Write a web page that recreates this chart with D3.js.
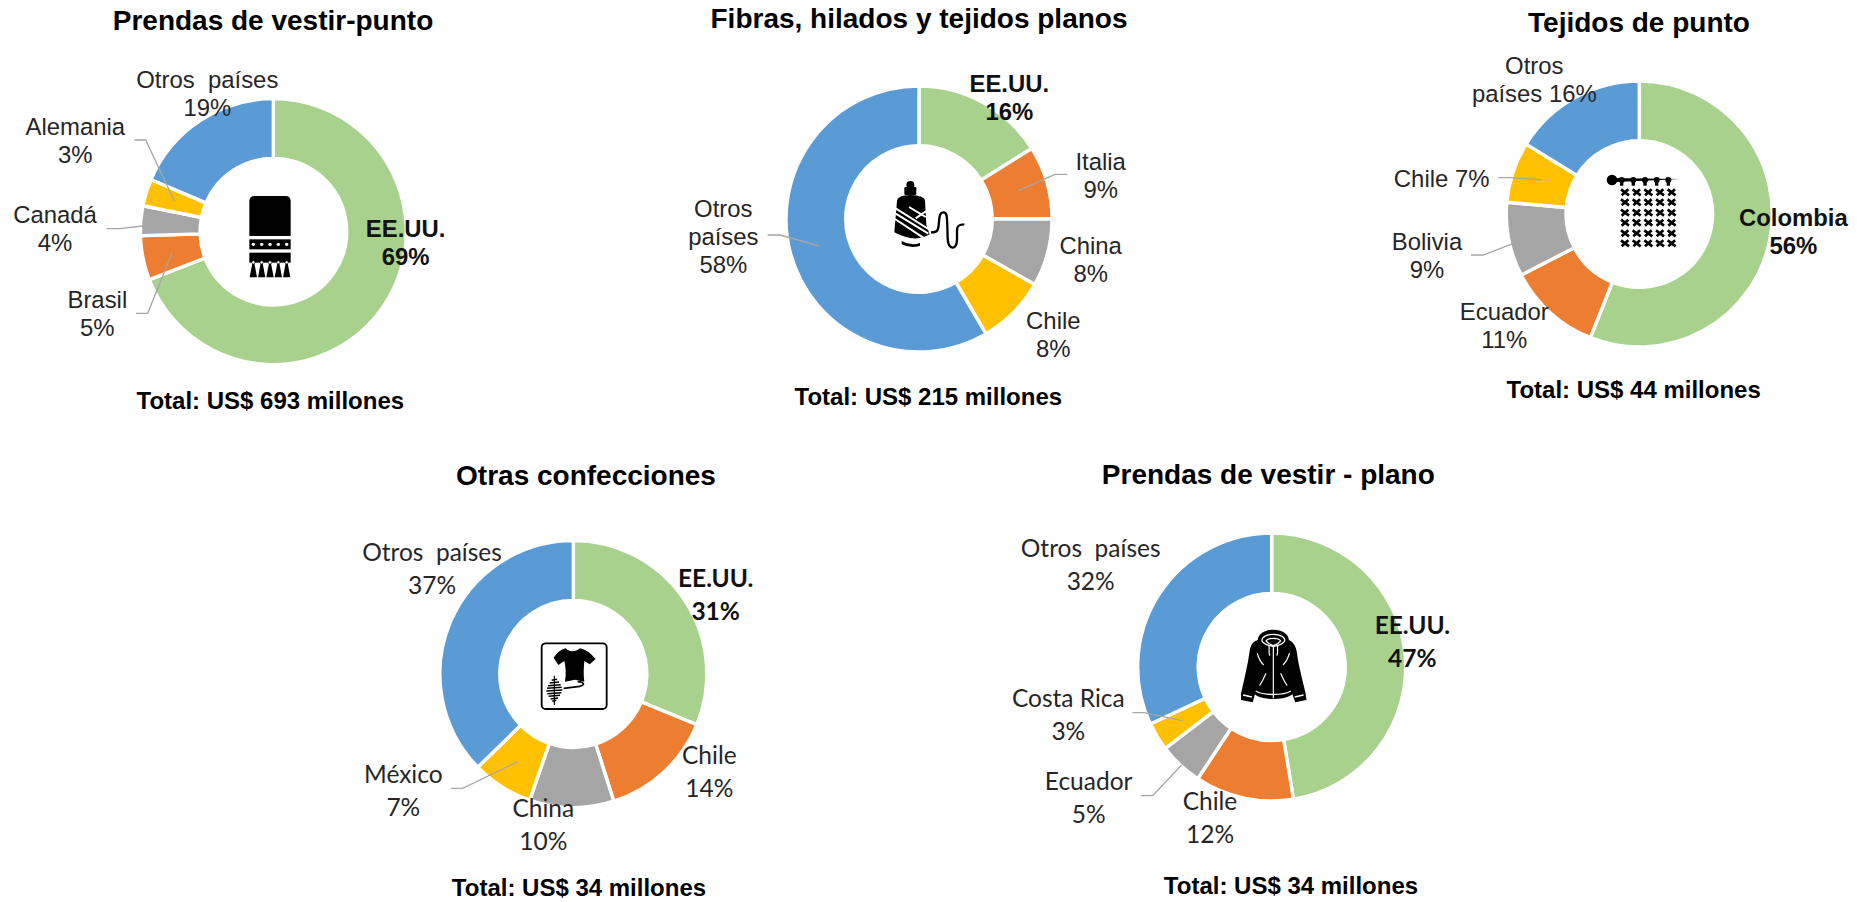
<!DOCTYPE html>
<html><head><meta charset="utf-8">
<style>html,body{margin:0;background:#fff}svg{display:block}text{white-space:pre}</style>
<script src="https://cdn.jsdelivr.net/npm/d3@7"></script></head><body>
<script>
// ---------- data ----------
const sliceColors = ["#A9D18E","#ED7D31","#A5A5A5","#FFC000","#5B9BD5"];

const puntoTitle = "Prendas de vestir-punto";
const puntoCountries = ["EE.UU.","Brasil","Canadá","Alemania","Otros  países"];
const puntoShares = [69.2,5.4,3.6,3.3,18.6];
const puntoTotal = "Total: US$ 693 millones";

const fibrasTitle = "Fibras, hilados y tejidos planos";
const fibrasCountries = ["EE.UU.","Italia","China","Chile","Otros|países"];
const fibrasShares = [16.1,8.9,8.2,8.4,58.4];
const fibrasTotal = "Total: US$ 215 millones";

const tejidosTitle = "Tejidos de punto";
const tejidosCountries = ["Colombia","Ecuador","Bolivia","Chile","Otros|países"];
const tejidosShares = [56.0,11.4,9.0,7.4,16.2];
const tejidosTotal = "Total: US$ 44 millones";

const otrasTitle = "Otras confecciones";
const otrasCountries = ["EE.UU.","Chile","China","México","Otros  países"];
const otrasShares = [31.2,13.9,10.2,7.4,37.3];
const otrasTotal = "Total: US$ 34 millones";

const planoTitle = "Prendas de vestir - plano";
const planoCountries = ["EE.UU.","Chile","Ecuador","Costa Rica","Otros  países"];
const planoShares = [47.4,11.9,5.3,3.4,32.0];
const planoTotal = "Total: US$ 34 millones";

// ---------- layout (annotation positions, in px x3 relative to an origin) ----------
const ARIAL = "'Liberation Sans', Arial, sans-serif";
const CAL = "Lato, 'Noto Sans', sans-serif";
const charts = [
 {title:puntoTitle,names:puntoCountries,values:puntoShares,total:puntoTotal,
  o:[0,0],c:[820,695],r:133,ri:73.3,font:ARIAL,fs:23.9,gap:84,icon:"poncho",iconO:[240,190],
  t:[819,90],tt:[811,1228],
  pos:[[1217,712],[292,923],[165,668],[226,405],[622,265]],
  one:[],
  leaders:[[[408,940],[443,940],[517,757]],[[320,686],[360,686],[428,678]],[[403,420],[437,420],[523,603]]]},
 {title:fibrasTitle,names:fibrasCountries,values:fibrasShares,total:fibrasTotal,
  o:[690,0],c:[687,657],r:133,ri:73.3,font:ARIAL,fs:23.9,gap:84,icon:"spool",iconO:[885,175],
  t:[687,85],tt:[715,1215],
  pos:[[958,275],[1232,510],[1202,762],[1090,988],[100,652]],
  one:[],
  leaders:[[[1132,523],[1095,523],[985,572]],[[233,705],[270,705],[388,738]]]},
 {title:tejidosTitle,names:tejidosCountries,values:tejidosShares,total:tejidosTotal,
  o:[1380,0],c:[778,642],r:133,ri:73.3,font:ARIAL,fs:23.9,gap:83,icon:"knit",iconO:[1600,165],
  t:[777,95],tt:[761,1193],
  pos:[[1240,678],[373,960],[141,750],[185,560],[463,222]],
  one:[3],sameLine:4,
  leaders:[[[355,533],[392,533],[485,540]],[[273,765],[310,765],[400,730]]]},
 {title:otrasTitle,names:otrasCountries,values:otrasShares,total:otrasTotal,
  o:[340,450],c:[700,672],r:133.5,ri:73.5,font:CAL,fs:24.5,gap:99,icon:"shirt",iconO:[535,635],
  t:[738,106],tt:[717,1339],
  pos:[[1127,411],[1108,942],[610,1101],[190,999],[276,333]],
  one:[],
  leaders:[[[333,1015],[368,1015],[533,935]]]},
 {title:planoTitle,names:planoCountries,values:planoShares,total:planoTotal,
  o:[1000,450],c:[815,651],r:134,ri:73.5,font:CAL,fs:24.5,gap:99,icon:"jacket",iconO:[1235,625],
  t:[805,101],tt:[873,1331],
  pos:[[1237,552],[630,1081],[266,1021],[205,772],[272,322]],
  one:[],
  leaders:[[[423,1037],[458,1037],[545,945]],[[397,788],[432,788],[548,812]]]}
];

// ---------- centre pictograms (drawn in crop px x3) ----------
const icons = {
  poncho(g){
    g.append("path").attr("d","M28 138V34Q28 18 44 18H136Q152 18 152 34V138Z");
    g.append("rect").attr("x",28).attr("y",148).attr("width",124).attr("height",30);
    g.append("rect").attr("x",28).attr("y",188).attr("width",124).attr("height",30);
    [40,65,90,115,140].forEach(x=>{
      g.append("circle").attr("cx",x).attr("cy",163).attr("r",5).attr("fill","#fff");
      g.append("path").attr("d",`M${x-3} 220H${x+3}L${x+11} 262H${x-11}Z`);
      g.append("circle").attr("cx",x).attr("cy",217).attr("r",5).attr("fill","#fff").attr("stroke","#000").attr("stroke-width",2);
    });
  },
  spool(g){
    g.append("circle").attr("cx",76).attr("cy",30).attr("r",12);
    g.append("rect").attr("x",58).attr("y",36).attr("width",36).attr("height",24).attr("rx",4);
    g.append("path").attr("d","M36 78Q36 62 76 60Q120 62 120 78L124 150L134 178Q90 205 28 172Z");
    g.append("path").attr("d","M50 198Q78 214 105 204L105 212Q78 222 50 208Z");
    const s=g.append("g").attr("fill","none").attr("stroke","#fff").attr("stroke-width",6);
    ["M32 100L130 162","M32 116L130 176","M30 132L118 190","M72 96L122 126","M124 108L92 130"]
      .forEach(d=>s.append("path").attr("d",d));
    g.append("path").attr("fill","none").attr("stroke","#000").attr("stroke-width",7)
      .attr("d","M138 172C160 172 160 165 162 140C164 112 170 112 176 112C188 112 186 130 188 190C190 226 215 226 216 195L216 165C216 150 225 148 238 148");
  },
  knit(g){
    g.append("circle").attr("cx",36).attr("cy",45).attr("r",16);
    g.append("path").attr("d","M36 39L240 42L36 52Z");
    [65,100,135,170,205].forEach(x=>{
      g.append("circle").attr("cx",x).attr("cy",45).attr("r",9);
      g.append("rect").attr("x",x-5).attr("y",45).attr("width",10).attr("height",17);
    });
    const st=g.append("g").attr("stroke","#000").attr("stroke-width",8);
    [82,112,143,173,205,235].forEach(y=>[75,110,145,180,215].forEach(x=>{
      st.append("path").attr("d",`M${x-12} ${y-9}L${x+12} ${y+9}M${x+10} ${y-9}L${x-10} ${y+9}`);
    }));
  },
  shirt(g){
    g.append("rect").attr("x",20).attr("y",25).attr("width",195).attr("height",197).attr("rx",12)
      .attr("fill","none").attr("stroke","#000").attr("stroke-width",5.5);
    g.append("path").attr("d","M92 40C102 52 122 52 135 40Q158 44 182 72L164 88L148 78C146 100 145 122 148 140L120 134L90 140C94 115 92 95 88 78L70 90L56 68Q70 46 92 40Z");
    g.append("path").attr("fill","none").attr("stroke","#000").attr("stroke-width",5)
      .attr("d","M86 160L134 154C150 150 150 142 128 140");
    g.append("path").attr("stroke","#000").attr("stroke-width",3.5).attr("d","M58 122V210");
    const h=g.append("g").attr("stroke","#000").attr("stroke-width",4.5);
    [[136,8],[144,14],[152,19],[160,22],[168,24],[176,21],[184,17],[192,11],[199,6]].forEach(d=>
      h.append("path").attr("d",`M${58-d[1]} ${d[0]}L${58+d[1]} ${d[0]-3}`));
  },
  jacket(g){
    const j=g.append("g").attr("transform","translate(115,0) scale(.88,1) translate(-115,0)");
    j.append("path").attr("d","M115 14C85 14 62 28 62 45C45 50 38 58 34 80C28 120 15 165 5 205L5 225L45 232L52 208C60 214 75 222 115 222C155 222 172 214 180 208L190 232L228 225L225 205C215 165 200 120 195 80C190 58 180 50 168 45C168 28 145 14 115 14Z");
    const w=j.append("g").attr("fill","none").attr("stroke","#fff").attr("stroke-width",4);
    ["M115 28C92 28 76 36 76 46C76 54 95 62 115 64C135 62 154 54 154 46C154 36 138 28 115 28Z",
     "M115 40C104 40 94 42 90 48C96 54 106 60 115 62C124 60 134 54 140 48C136 42 126 40 115 40Z",
     "M115 62V220","M100 62C103 75 97 80 103 92","M130 62C127 75 133 80 127 92",
     "M60 85C65 100 72 112 82 120","M170 85C165 100 158 112 148 120",
     "M90 145C84 158 76 172 68 182","M140 145C146 158 154 172 162 182",
     "M55 198C80 212 150 212 175 198","M12 210L42 216","M218 210L188 216"]
      .forEach(d=>w.append("path").attr("d",d));
  }
};

const svg = d3.select("body").append("svg").attr("width",1857).attr("height",902);
const pie = d3.pie().sort(null).value(d=>d);
const fmt = v=>Math.round(v)+"%";

charts.forEach(ch=>{
  const X = v=>ch.o[0]+v/3, Y = v=>ch.o[1]+v/3;
  const cx=X(ch.c[0]), cy=Y(ch.c[1]);
  const arc=d3.arc().innerRadius(ch.ri).outerRadius(ch.r);
  const g=svg.append("g").attr("transform",`translate(${cx},${cy})`);
  g.selectAll("path").data(pie(ch.values)).join("path")
    .attr("d",arc).attr("fill",(d,i)=>sliceColors[i])
    .attr("stroke","#fff").attr("stroke-width",3.4).attr("stroke-linejoin","miter");

  const line=d3.line().x(p=>X(p[0])).y(p=>Y(p[1]));
  svg.append("g").selectAll("path").data(ch.leaders).join("path")
    .attr("d",line).attr("fill","none").attr("stroke","#A6A6A6").attr("stroke-width",1.3);

  svg.append("text").attr("x",X(ch.t[0])).attr("y",Y(ch.t[1]))
    .attr("text-anchor","middle").attr("font-family",ARIAL).attr("font-weight","bold")
    .attr("font-size",28).attr("fill","#000").text(ch.title);
  svg.append("text").attr("x",X(ch.tt[0])).attr("y",Y(ch.tt[1]))
    .attr("text-anchor","middle").attr("font-family",ARIAL).attr("font-weight","bold")
    .attr("font-size",24).attr("fill","#000").text(ch.total);

  ch.names.forEach((nm,i)=>{
    const pct=fmt(ch.values[i]);
    let lines=nm.split("|");
    if(ch.one.includes(i)) lines=[lines.join(" ")+" "+pct];
    else if(ch.sameLine===i) lines[lines.length-1]+=" "+pct;
    else lines.push(pct);
    const t=svg.append("text").attr("text-anchor","middle")
      .attr("font-family",ch.font).attr("font-size",ch.fs)
      .attr("font-weight",i===0?"bold":"normal").attr("fill",i===0?"#111":"#262626");
    lines.forEach((l,k)=>t.append("tspan").attr("x",X(ch.pos[i][0])).attr("y",Y(ch.pos[i][1]+k*ch.gap)).text(l));
  });

  const ic=svg.append("g").attr("transform",`translate(${ch.iconO[0]},${ch.iconO[1]}) scale(${1/3})`);
  icons[ch.icon](ic);
});
</script>
</body></html>
